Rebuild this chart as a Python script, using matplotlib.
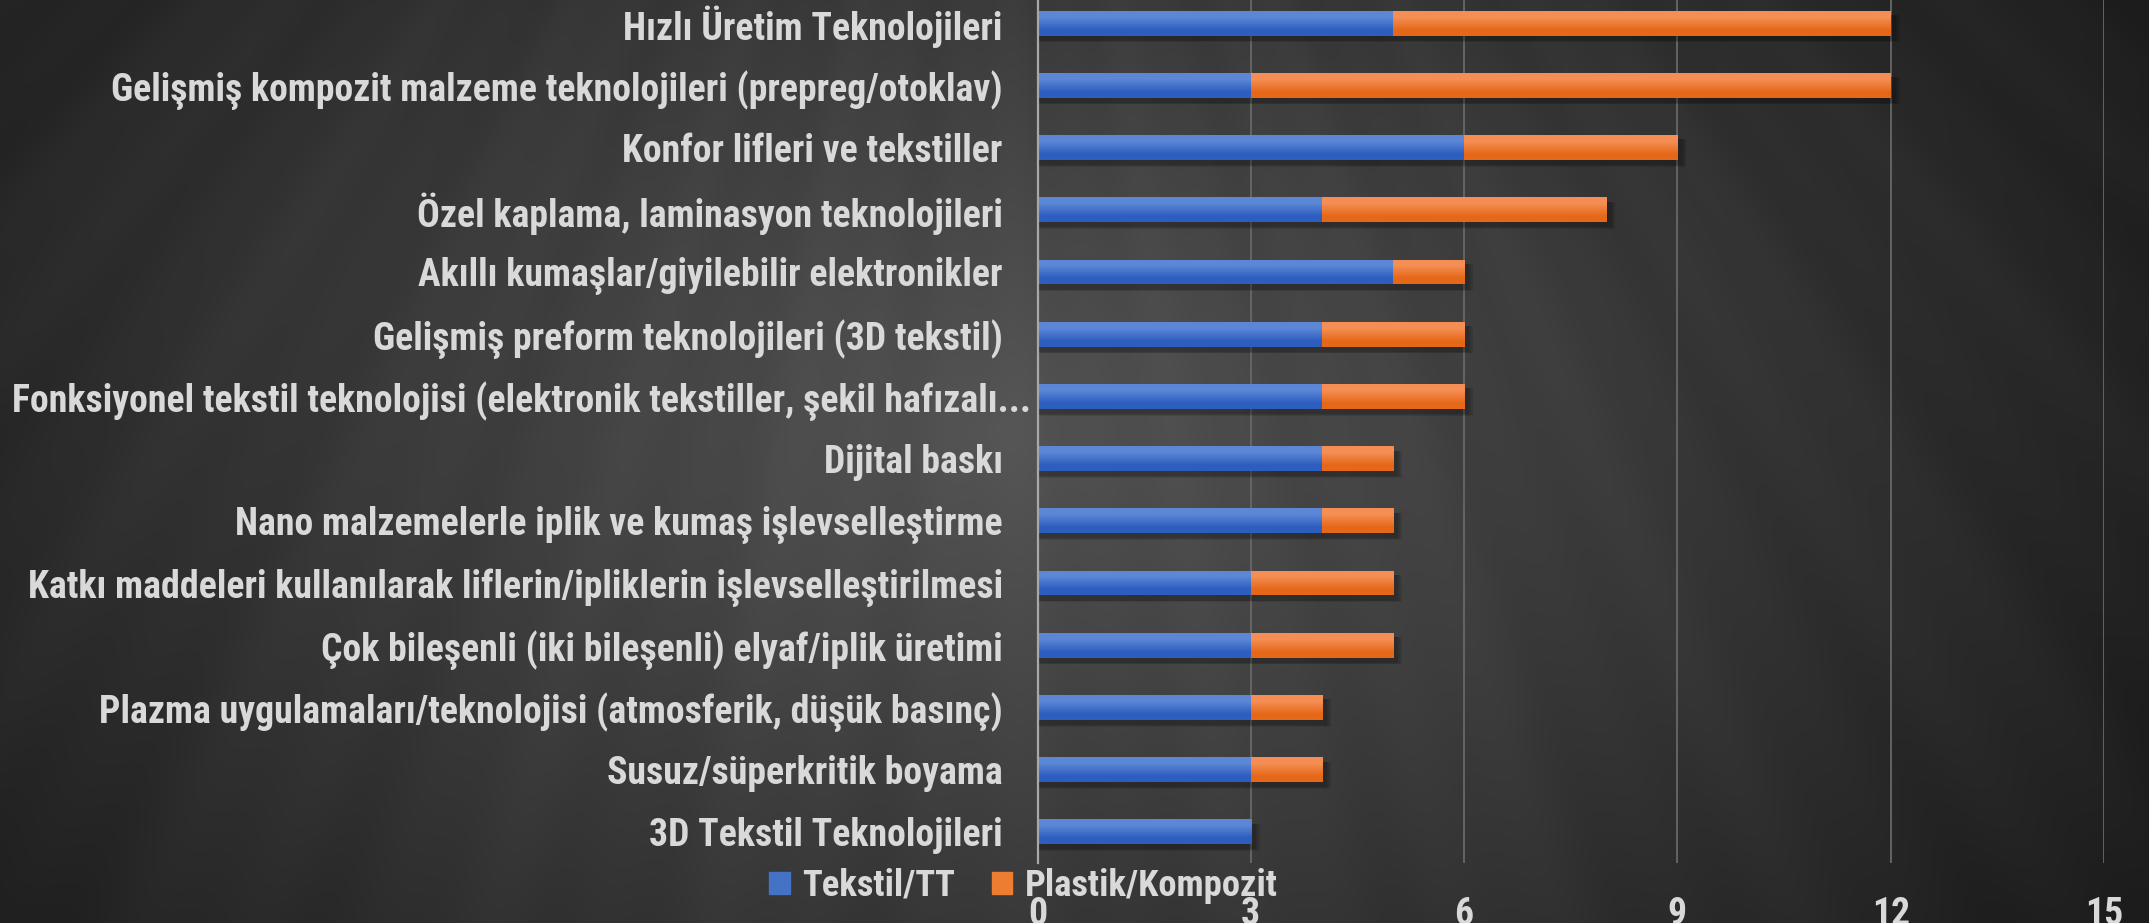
import numpy as np
import matplotlib
matplotlib.use('Agg')
import matplotlib.pyplot as plt
import matplotlib.transforms as mtransforms
from matplotlib import font_manager
from matplotlib.patches import Patch, Rectangle

categories = [
    "Hızlı Üretim Teknolojileri",
    "Gelişmiş kompozit malzeme teknolojileri (prepreg/otoklav)",
    "Konfor lifleri ve tekstiller",
    "Özel kaplama, laminasyon teknolojileri",
    "Akıllı kumaşlar/giyilebilir elektronikler",
    "Gelişmiş preform teknolojileri (3D tekstil)",
    "Fonksiyonel tekstil teknolojisi (elektronik tekstiller, şekil hafızalı...",
    "Dijital baskı",
    "Nano malzemelerle iplik ve kumaş işlevselleştirme",
    "Katkı maddeleri kullanılarak liflerin/ipliklerin işlevselleştirilmesi",
    "Çok bileşenli (iki bileşenli) elyaf/iplik üretimi",
    "Plazma uygulamaları/teknolojisi (atmosferik, düşük basınç)",
    "Susuz/süperkritik boyama",
    "3D Tekstil Teknolojileri",
]
tekstil = [5, 3, 6, 4, 5, 4, 4, 4, 4, 3, 3, 3, 3, 3]
plastik = [7, 9, 3, 4, 1, 2, 2, 1, 1, 2, 2, 1, 1, 0]
series_names = ["Tekstil/TT", "Plastik/Kompozit"]
xticks = [0, 3, 6, 9, 12, 15]

names = {f.name for f in font_manager.fontManager.ttflist}
font = 'Roboto'
for cand in ['Liberation Sans Narrow', 'Roboto Condensed', 'Open Sans Condensed']:
    if cand in names:
        font = cand
        break
plt.rcParams['font.family'] = [font, 'DejaVu Sans']
plt.rcParams['font.weight'] = 'bold'

W, H = 2149, 923
txt_col = '#d9d9d9'
blue, orange = '#4472c4', '#ed7d31'

fig = plt.figure(figsize=(W / 100, H / 100), dpi=100)

# background radial gradient with faint rays
bg = fig.add_axes([0, 0, 1, 1])
bg.axis('off')
yy, xx = np.mgrid[0:H:2, 0:W:2]
r = np.sqrt(((xx - 1000) / 1300.0) ** 2 + ((yy - 430) / 950.0) ** 2)
ang = np.arctan2(yy + 900, xx - 1000)
val = 0.33 - 0.22 * r + 0.006 * np.sin(ang * 45) + 0.004 * np.sin(ang * 110)
val = np.clip(val, 0.11, 0.4)
bg.imshow(np.dstack([val, val, val]), extent=(0, 1, 0, 1), aspect='auto')
bg.set_xlim(0, 1)
bg.set_ylim(0, 1)

L, R = 1037.5 / W, 2104 / W
B, T = 1 - 863 / H, 1 + 8 / H
ax = fig.add_axes([L, B, R - L, T - B])
ax.set_facecolor('none')

n = len(categories)
y = np.arange(n)[::-1]
h = 0.4
tot = np.array(tekstil) + np.array(plastik)

# soft shadows under bars
for yi, t in zip(y, tot):
    for k, a in enumerate([0.10, 0.10, 0.12]):
        d = 0.025 * (3 - k)
        ax.add_patch(Rectangle((0.02, yi - h / 2 - 0.07 - d / 2), t + 0.03 + d, h + d * 0.5,
                               color='black', alpha=a, lw=0, zorder=2))

b1 = ax.barh(y, tekstil, height=h, color=blue, zorder=3)
b2 = ax.barh(y, plastik, left=tekstil, height=h, color=orange, zorder=3)

grad_b = np.array([[0.18, 0.37, 0.75], [0.36, 0.53, 0.84]]).reshape(2, 1, 3)
grad_o = np.array([[0.90, 0.41, 0.10], [0.96, 0.56, 0.33]]).reshape(2, 1, 3)
for bars, g in ((b1, grad_b), (b2, grad_o)):
    for p in bars:
        if p.get_width() <= 0:
            continue
        x0, y0 = p.get_x(), p.get_y()
        im = ax.imshow(g, extent=(x0, x0 + p.get_width(), y0, y0 + p.get_height()),
                       origin='lower', aspect='auto', interpolation='bilinear', zorder=4)
        im.set_clip_path(p)

ax.set_xlim(0, 15)
ax.set_ylim(-0.5, n - 0.5)
ax.set_xticks(xticks)
ax.set_yticks(y)
ax.set_yticklabels(categories)
ax.grid(axis='x', color='#686868', lw=1.3, zorder=1)
ax.set_axisbelow(True)
for s in ['top', 'right', 'bottom']:
    ax.spines[s].set_visible(False)
ax.spines['left'].set_color('#a8a8a8')
ax.spines['left'].set_linewidth(1.6)
ax.spines['left'].set_zorder(5)
ax.tick_params(length=0, colors=txt_col)
ax.tick_params(axis='y', pad=25)
ax.tick_params(axis='x', pad=24)

# fit label size to the reference width of the longest label
fs = 22
for t in ax.get_yticklabels() + ax.get_xticklabels():
    t.set_fontsize(fs)
    t.set_fontweight('bold')
fig.canvas.draw()
rend = fig.canvas.get_renderer()
wmax = max(t.get_window_extent(rend).width for t in ax.get_yticklabels())
fs = fs * 1018.0 / wmax
for t in ax.get_yticklabels() + ax.get_xticklabels():
    t.set_fontsize(fs)

# the truncated label sits closer to the axis in the original
long_lab = ax.get_yticklabels()[6]
long_lab.set_transform(long_lab.get_transform() +
                       mtransforms.ScaledTranslation(28 / 100, 0, fig.dpi_scale_trans))

handles = [Patch(color=blue), Patch(color=orange)]
leg = fig.legend(handles, series_names, loc='center left',
                 bbox_to_anchor=(751 / W, 1 - 886 / H), ncol=2, frameon=False,
                 fontsize=fs * 0.97, handlelength=0.55, handleheight=0.55,
                 handletextpad=0.35, columnspacing=1.0, borderpad=0)
for t in leg.get_texts():
    t.set_color(txt_col)
    t.set_fontweight('bold')

fig.savefig('out.png', dpi=100)
